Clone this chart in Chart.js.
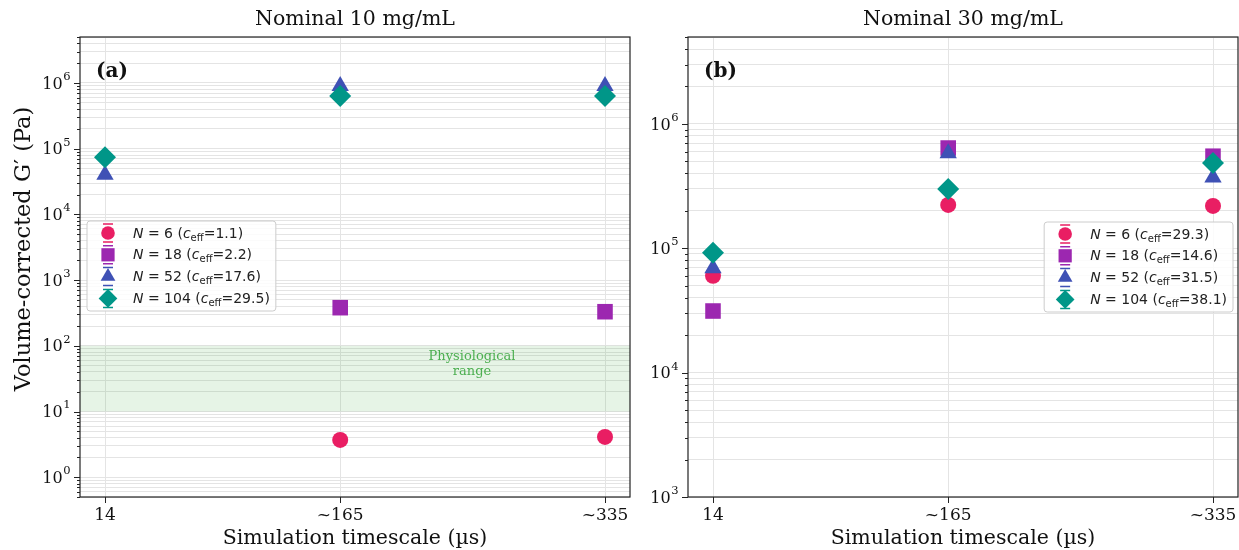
<!DOCTYPE html>
<html>
<head>
<meta charset="utf-8">
<script src="https://cdn.jsdelivr.net/npm/chart.js@4.4.1/dist/chart.umd.min.js"></script>
<style>
html, body { margin: 0; padding: 0; background: #fff; overflow: hidden; }
#wrap { position: relative; width: 1239px; height: 550px; }
canvas { position: absolute; top: 0; }
#ca { left: 0; }
#cb { left: 640px; }
</style>
</head>
<body>
<div id="wrap">
  <canvas id="ca" width="640" height="550"></canvas>
  <canvas id="cb" width="599" height="550"></canvas>
</div>
<script>
// x positions (µs) and their tick labels
const timescales = [14, 165, 335];
const timeLabels = ['14', '~165', '~335'];

const seriesN = [6, 18, 52, 104];
const ceff10 = ['1.1', '2.2', '17.6', '29.5'];
const ceff30 = ['29.3', '14.6', '31.5', '38.1'];

// Nominal 10 mg/mL, volume-corrected G' (Pa)
const g10_N6 = [null, 3.7, 4.1];
const g10_N18 = [null, 380, 330];
const g10_N52 = [4.0e4, 9.0e5, 9.0e5];
const g10_N104 = [7.4e4, 6.3e5, 6.3e5];

// Nominal 30 mg/mL
const g30_N6 = [6.0e4, 2.23e5, 2.19e5];
const g30_N18 = [3.13e4, 6.4e5, 5.5e5];
const g30_N52 = [6.9e4, 5.8e5, 3.7e5];
const g30_N104 = [9.2e4, 3.0e5, 4.85e5];

const physioRange = [10, 100];

const colors = ['#E91E63', '#9C27B0', '#3F51B5', '#009688'];
const styles = ['circle', 'rect', 'triangle', 'rectRot'];
const radii = [8, 11, 10, 11];

const SERIF = '"DejaVu Serif", serif';
const SANS = '"DejaVu Sans", sans-serif';

function logTicks(min, max) {
    const out = [];
    for (let e = Math.floor(Math.log10(min)); e <= Math.ceil(Math.log10(max)); e++) {
        for (let m = 1; m <= 9; m++) {
            const v = m * Math.pow(10, e);
            if (v >= min * 0.999 && v <= max * 1.001) out.push({ value: v, major: m === 1 });
        }
    }
    return out;
}

function drawLegend(ctx, left, top, ceffs, alignRight) {
    const rows = seriesN.map((n, i) => [
        ['N', 'italic 14px ' + SANS, 0],
        [' = ' + n + ' (', '14px ' + SANS, 0],
        ['c', 'italic 14px ' + SANS, 0],
        ['eff', '10px ' + SANS, 4],
        ['=' + ceffs[i] + ')', '14px ' + SANS, 0],
    ]);
    let maxW = 0;
    rows.forEach(r => {
        let w = 0;
        r.forEach(([t, f]) => { ctx.font = f; w += ctx.measureText(t).width; });
        maxW = Math.max(maxW, w);
    });
    const w = 46 + maxW + 6;
    const h = 90;
    if (alignRight) left -= w;
    ctx.save();
    ctx.beginPath();
    ctx.roundRect(left, top, w, h, 3);
    ctx.fillStyle = 'rgba(255,255,255,0.85)';
    ctx.fill();
    ctx.strokeStyle = '#cccccc';
    ctx.lineWidth = 1;
    ctx.stroke();
    rows.forEach((r, i) => {
        const cy = top + 12 + i * 21.8;
        const mx = left + 21;
        ctx.fillStyle = colors[i];
        ctx.strokeStyle = colors[i];
        Chart.helpers.drawPoint(ctx, { pointStyle: styles[i], radius: radii[i] * 0.85, borderWidth: 0, rotation: 0 }, mx, cy);
        ctx.lineWidth = 1.5;
        ctx.beginPath();
        ctx.moveTo(mx - 5, cy - 9); ctx.lineTo(mx + 5, cy - 9);
        ctx.moveTo(mx - 5, cy + 9); ctx.lineTo(mx + 5, cy + 9);
        ctx.stroke();
        let x = left + 46;
        ctx.fillStyle = '#222';
        ctx.textBaseline = 'middle';
        ctx.textAlign = 'left';
        r.forEach(([t, f, dy]) => {
            ctx.font = f;
            ctx.fillText(t, x, cy + 1 + dy);
            x += ctx.measureText(t).width;
        });
    });
    ctx.restore();
}

function makeChart(id, opt) {
    const datasets = opt.series.map((arr, i) => ({
        label: 'N = ' + seriesN[i],
        data: timescales.map((x, j) => ({ x: x, y: arr[j] })).filter(p => p.y !== null),
        backgroundColor: colors[i],
        borderColor: colors[i],
        borderWidth: 0,
        pointStyle: styles[i],
        pointRadius: radii[i],
        pointHoverRadius: radii[i],
        order: 4 - i,
    }));

    const decor = {
        id: 'decor',
        beforeDatasetsDraw(chart) {
            if (!opt.band) return;
            const { ctx, chartArea: a, scales: { y } } = chart;
            const y1 = y.getPixelForValue(opt.band[1]);
            const y0 = y.getPixelForValue(opt.band[0]);
            ctx.save();
            ctx.fillStyle = 'rgba(76,175,80,0.14)';
            ctx.fillRect(a.left, y1, a.right - a.left, y0 - y1);
            ctx.fillStyle = '#4CAF50';
            ctx.font = '13px ' + SERIF;
            ctx.textAlign = 'center';
            ctx.textBaseline = 'middle';
            ctx.fillText('Physiological', 472, 357);
            ctx.fillText('range', 472, 372);
            ctx.restore();
        },
        afterDraw(chart) {
            const { ctx, chartArea: a, scales: { x, y } } = chart;
            ctx.save();
            ctx.strokeStyle = '#222';
            ctx.lineWidth = 1.2;
            ctx.strokeRect(a.left, a.top, a.right - a.left, a.bottom - a.top);
            ctx.lineWidth = 1;
            ctx.beginPath();
            y.ticks.forEach(t => {
                const py = Math.round(y.getPixelForValue(t.value)) + 0.5;
                const len = t.major ? 6 : 3;
                ctx.moveTo(a.left, py); ctx.lineTo(a.left - len, py);
            });
            x.ticks.forEach(t => {
                const px = Math.round(x.getPixelForValue(t.value)) + 0.5;
                ctx.moveTo(px, a.bottom); ctx.lineTo(px, a.bottom + 6);
            });
            ctx.stroke();

            ctx.fillStyle = '#111';
            ctx.textBaseline = 'middle';

            // x tick labels
            ctx.textAlign = 'center';
            ctx.font = '17px ' + SERIF;
            x.ticks.forEach((t, i) => {
                ctx.fillText(timeLabels[i], x.getPixelForValue(t.value), a.bottom + 19);
            });

            // y tick labels as 10 with raised exponent
            ctx.textAlign = 'left';
            y.ticks.filter(t => t.major).forEach(t => {
                const py = y.getPixelForValue(t.value);
                const e = String(Math.round(Math.log10(t.value)));
                ctx.font = '11.5px ' + SERIF;
                const we = ctx.measureText(e).width;
                ctx.font = '16px ' + SERIF;
                const wb = ctx.measureText('10').width;
                const xr = a.left - 10;
                ctx.fillText('10', xr - we - wb, py + 1.5);
                ctx.font = '11.5px ' + SERIF;
                ctx.fillText(e, xr - we + 0.5, py - 6);
            });

            ctx.textAlign = 'center';
            ctx.font = '20.5px ' + SERIF;
            ctx.fillText(opt.title, (a.left + a.right) / 2, 20);
            ctx.fillText('Simulation timescale (µs)', (a.left + a.right) / 2, 539);
            if (opt.ylabel) {
                ctx.save();
                ctx.translate(24, 249);
                ctx.rotate(-Math.PI / 2);
                ctx.font = '22.5px ' + SERIF;
                ctx.fillText(opt.ylabel, 0, 0);
                ctx.restore();
            }
            ctx.font = 'bold 20px ' + SERIF;
            ctx.textAlign = 'left';
            ctx.fillText(opt.panel, a.left + 16, 72);
            ctx.restore();

            if (opt.legendLeft) drawLegend(ctx, a.left + 7, opt.legendTop, opt.ceff, false);
            else drawLegend(ctx, a.right - 5, opt.legendTop, opt.ceff, true);
        }
    };

    return new Chart(document.getElementById(id), {
        type: 'scatter',
        data: { datasets: datasets },
        options: {
            responsive: false,
            animation: false,
            events: [],
            layout: { autoPadding: false, padding: { top: 37, right: opt.padRight, left: 0, bottom: 0 } },
            plugins: { legend: { display: false }, tooltip: { enabled: false }, title: { display: false } },
            scales: {
                x: {
                    type: 'linear',
                    min: -2.05,
                    max: 351.05,
                    afterBuildTicks: s => { s.ticks = timescales.map(v => ({ value: v })); },
                    afterFit: s => { s.height = 53; },
                    ticks: { display: false },
                    grid: { color: '#e4e4e4', drawTicks: false },
                    border: { display: false },
                },
                y: {
                    type: 'logarithmic',
                    min: opt.ymin,
                    max: opt.ymax,
                    afterBuildTicks: s => { s.ticks = logTicks(opt.ymin, opt.ymax); },
                    afterFit: s => { s.width = opt.yWidth; },
                    ticks: { display: false },
                    grid: { color: '#e4e4e4', drawTicks: false },
                    border: { display: false },
                },
            },
        },
        plugins: [decor],
    });
}

makeChart('ca', {
    series: [g10_N6, g10_N18, g10_N52, g10_N104],
    ceff: ceff10,
    title: 'Nominal 10 mg/mL',
    ylabel: 'Volume-corrected G′ (Pa)',
    panel: '(a)',
    ymin: 0.5, ymax: 5e6,
    yWidth: 80, padRight: 10,
    band: physioRange,
    legendLeft: true, legendTop: 221,
});

makeChart('cb', {
    series: [g30_N6, g30_N18, g30_N52, g30_N104],
    ceff: ceff30,
    title: 'Nominal 30 mg/mL',
    ylabel: null,
    panel: '(b)',
    ymin: 1e3, ymax: 5e6,
    yWidth: 48, padRight: 1,
    band: null,
    legendLeft: false, legendTop: 222,
});
</script>
</body>
</html>
